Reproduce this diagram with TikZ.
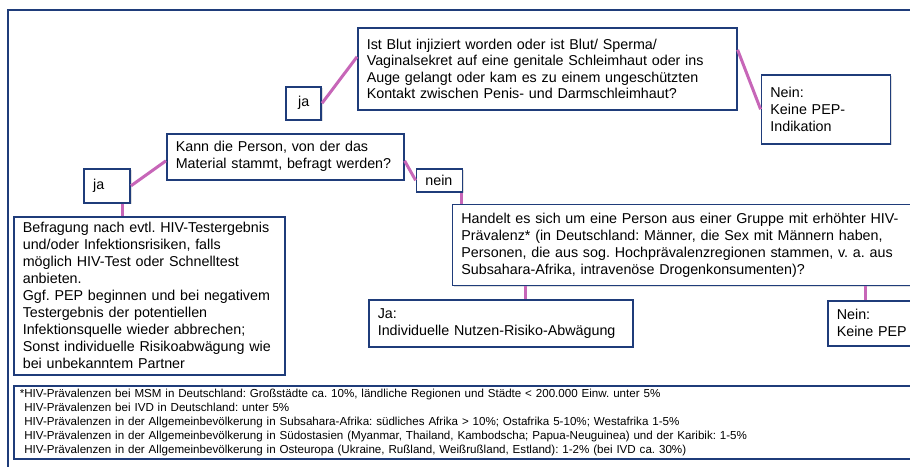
\documentclass[tikz,border=0pt]{standalone}
\usepackage{fontspec}
\setmainfont{Liberation Sans}
\usepackage{tikz}
\usetikzlibrary{positioning,shadows}
\definecolor{boxblue}{RGB}{31,60,122}
\definecolor{linkpink}{RGB}{199,102,184}
\frenchspacing

\begin{document}
\begin{tikzpicture}[
    x=1pt, y=1pt,
    node distance=12pt,
    box/.style={rectangle, draw=boxblue, line width=1.6pt, fill=white, align=left,
        inner xsep=9pt, inner ysep=3pt, font=\fontsize{14.3}{17}\selectfont,
        drop shadow={shadow xshift=1.5pt, shadow yshift=-1.5pt, opacity=0.25}},
    tag/.style={box, align=center, inner xsep=2pt},
    link/.style={draw=linkpink, line width=3pt}
]
    \useasboundingbox (0,0) rectangle (910,-466);
    \clip (0,0) rectangle (910,-466);
    \draw[boxblue, line width=1.4pt] (8,-480) -- (8,-10) -- (920,-10);

    % questions and answers
    \node[box, anchor=north west, text width=361pt, minimum height=82pt, font=\fontsize{14.3}{16.3}\selectfont] (blutq) at (357,-27)
        {Ist Blut injiziert worden oder ist Blut/ Sperma/\\Vaginalsekret auf eine genitale Schleimhaut oder ins\\Auge gelangt oder kam es zu einem ungeschützten\\Kontakt zwischen Penis- und Darmschleimhaut?};
    \node[tag, minimum width=35pt, minimum height=33pt, below left=59pt and 35pt of blutq.north west] (jaoben) {ja};
    \node[box, text width=111pt, minimum height=69pt, below right=47pt and 23pt of blutq.north east] (neinoben)
        {Nein:\\Keine PEP-\\Indikation};
    \node[box, anchor=north west, text width=219pt, minimum height=46pt] (kannq) at (166,-133)
        {Kann die Person, von der das\\Material stammt, befragt werden?};
    \node[box, text width=28pt, minimum height=34pt, below left=35pt and 35pt of kannq.north west] (jalinks) {ja};
    \node[box, text width=28pt, minimum height=23pt, below right=35pt and 11pt of kannq.north east] (neinmitte) {nein};
    \node[box, anchor=north west, text width=253pt, minimum height=158pt] (befragung) at (13,-216)
        {Befragung nach evtl. HIV-Testergebnis\\und/oder Infektionsrisiken, falls\\möglich HIV-Test oder Schnelltest\\anbieten.\\Ggf. PEP beginnen und bei negativem\\Testergebnis der potentiellen\\Infektionsquelle wieder abbrechen;\\Sonst individuelle Risikoabwägung wie\\bei unbekanntem Partner};
    \node[box, text width=460pt, minimum height=81pt, below right=11pt and 36pt of neinmitte.south west] (handelt)
        {Handelt es sich um eine Person aus einer Gruppe mit erhöhter HIV-\\Prävalenz* (in Deutschland: Männer, die Sex mit Männern haben,\\Personen, die aus sog. Hochprävalenzregionen stammen, v. a. aus\\Subsahara-Afrika, intravenöse Drogenkonsumenten)?};
    \node[box, anchor=north west, text width=246pt, minimum height=47pt] (individuell) at (368,-299)
        {Ja:\\Individuelle Nutzen-Risiko-Abwägung};
    \node[box, anchor=north west, text width=100pt, minimum height=45pt] (keinepep) at (827,-300)
        {Nein:\\Keine PEP};

    % footnote
    \node[box, anchor=north west, text width=900pt, minimum height=73pt, inner xsep=6pt,
        font=\fontsize{11.6}{14}\selectfont] (fussnote) at (13,-385)
        {*HIV-Prävalenzen bei MSM in Deutschland: Großstädte ca. 10\%, ländliche Regionen und Städte < 200.000 Einw. unter 5\%\\
        \phantom{*}HIV-Prävalenzen bei IVD in Deutschland: unter 5\%\\
        \phantom{*}HIV-Prävalenzen in der Allgemeinbevölkerung in Subsahara-Afrika: südliches Afrika > 10\%; Ostafrika 5-10\%; Westafrika 1-5\%\\
        \phantom{*}HIV-Prävalenzen in der Allgemeinbevölkerung in Südostasien (Myanmar, Thailand, Kambodscha; Papua-Neuguinea) und der Karibik: 1-5\%\\
        \phantom{*}HIV-Prävalenzen in der Allgemeinbevölkerung in Osteuropa (Ukraine, Rußland, Weißrußland, Estland): 1-2\% (bei IVD ca. 30\%)};

    % connectors
    \draw[link] (jaoben.east) -- ([yshift=12pt]blutq.west);
    \draw[link] ([yshift=19pt]blutq.east) -- (neinoben.west);
    \draw[link] (jalinks.east) -- ([yshift=-4pt]kannq.west);
    \draw[link] ([xshift=15pt]jalinks.south) -- ([xshift=15pt]jalinks.south |- befragung.north);
    \draw[link] ([yshift=-4pt]kannq.east) -- (neinmitte.west);
    \draw[link] ([xshift=22pt]neinmitte.south) -- ([xshift=22pt]neinmitte.south |- handelt.north);
    \draw[link] ([xshift=25pt]individuell.north |- handelt.south) -- ([xshift=25pt]individuell.north);
    \draw[link] ([xshift=38pt]keinepep.north west |- handelt.south) -- ([xshift=38pt]keinepep.north west);
\end{tikzpicture}
\end{document}
